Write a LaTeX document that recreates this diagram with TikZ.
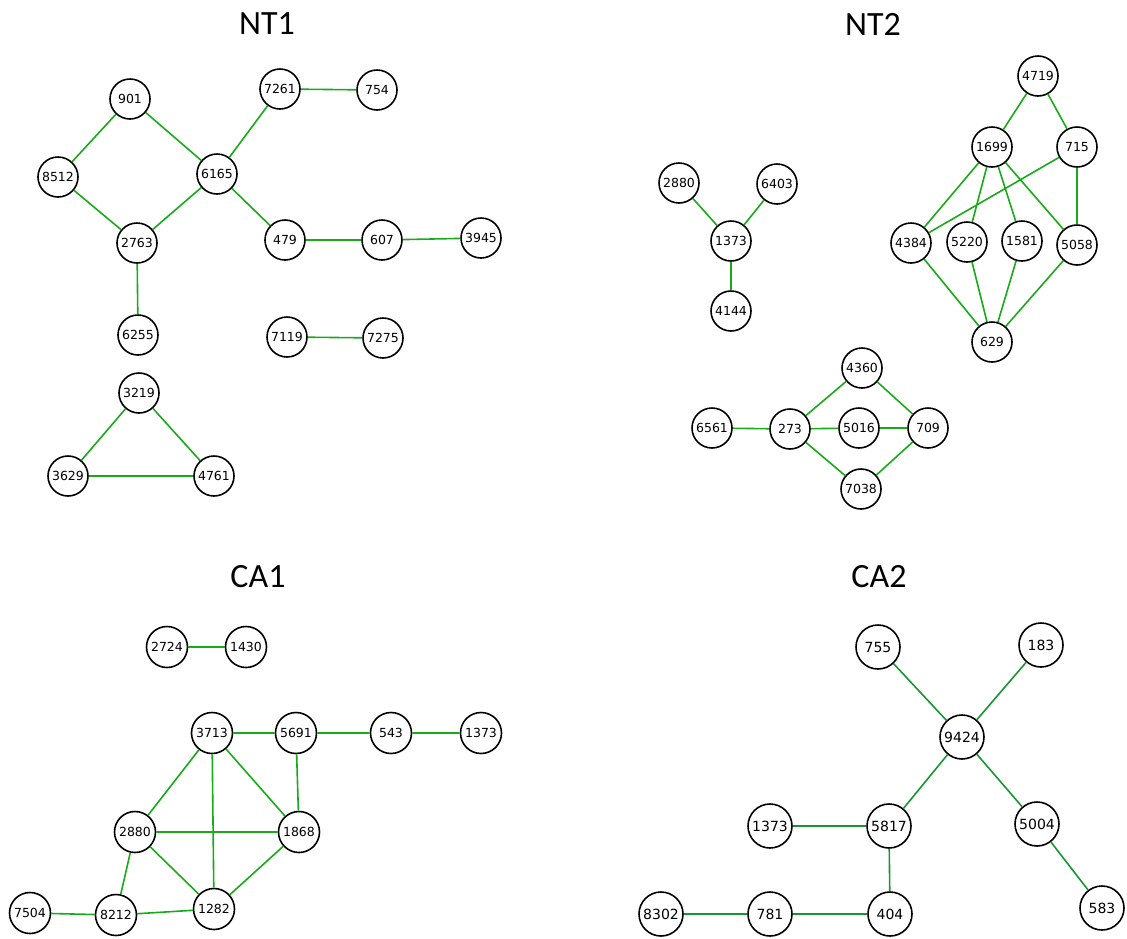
\documentclass[tikz,border=0pt]{standalone}
\usepackage{fontspec}
\setmainfont{DejaVu Sans}
\newfontfamily\titlefont{Carlito}
\usepackage{tikz}
\usetikzlibrary{positioning}
\usetikzlibrary{math}

\definecolor{ntgreen}{RGB}{25,170,25}
\definecolor{cagreen}{RGB}{25,150,50}

\begin{document}
\begin{tikzpicture}[x=1pt,y=-1pt,line width=1.6pt,
    vert/.style={circle, draw=black, fill=white, line width=1.6pt,
      minimum size=40pt, inner sep=0pt, font=\fontsize{12.5}{13}\selectfont},
    bigvert/.style={vert, minimum size=44pt, font=\fontsize{14}{15}\selectfont},
    edge/.style={ntgreen},
    caedge/.style={cagreen},
    heading/.style={font=\titlefont\fontsize{34}{36}\selectfont}]

  \useasboundingbox (0,0) rectangle (1127,938);

  % titles of the four panels
  \node[heading] (tNT1) at (267,24) {NT1};
  \node[heading] (tNT2) at (873,24) {NT2};
  \node[heading] (tCA1) at (258,577) {CA1};
  \node[heading] (tCA2) at (879,577) {CA2};

  % NT1
  \node[vert] (a901)  at (130,99)  {901};
  \node[vert] (a7261) at (280,89)  {7261};
  \node[vert] (a754)  at (377,90)  {754};
  \node[vert] (a8512) at (58,177)  {8512};
  \node[vert] (a6165) at (217,174) {6165};
  \node[vert] (a2763) at (137,243) {2763};
  \node[vert] (a479)  at (285,240) {479};
  \node[vert] (a607)  at (382,240) {607};
  \node[vert] (a3945) at (481,238) {3945};
  \node[vert] (a6255) at (138,335) {6255};
  \node[vert] (a7119) at (287,337) {7119};
  \node[vert] (a7275) at (383,338) {7275};
  \node[vert] (a3219) at (139,393) {3219};
  \node[vert] (a3629) at (68,476)  {3629};
  \node[vert] (a4761) at (214,476) {4761};

  \draw[edge] (a901) -- (a8512) (a901) -- (a6165) (a8512) -- (a2763)
    (a6165) -- (a2763) (a6165) -- (a7261) (a7261) -- (a754)
    (a6165) -- (a479) (a479) -- (a607) (a607) -- (a3945)
    (a2763) -- (a6255) (a7119) -- (a7275);
  \draw[edge] (a3219) -- (a3629) (a3219) -- (a4761) (a3629) -- (a4761);

  % NT2
  \node[vert] (b4719) at (1038,76)  {4719};
  \node[vert] (b1699) at (992,147)  {1699};
  \node[vert] (b715)  at (1077,147) {715};
  \node[vert] (b2880) at (679,183)  {2880};
  \node[vert] (b6403) at (777,184)  {6403};
  \node[vert] (b1373) at (731,241)  {1373};
  \node[vert] (b4144) at (731,311)  {4144};
  \node[vert] (b4384) at (911,243)  {4384};
  \node[vert] (b5220) at (967,242)  {5220};
  \node[vert] (b1581) at (1022,241) {1581};
  \node[vert] (b5058) at (1077,245) {5058};
  \node[vert] (b629)  at (992,342)  {629};
  \node[vert] (b4360) at (862,368)  {4360};
  \node[vert] (b6561) at (712,428)  {6561};
  \node[vert] (b273)  at (790,429)  {273};
  \node[vert] (b5016) at (859,428)  {5016};
  \node[vert] (b709)  at (928,428)  {709};
  \node[vert] (b7038) at (861,489)  {7038};

  \draw[edge] (b4719) -- (b1699) (b4719) -- (b715) (b1699) -- (b4384)
    (b1699) -- (b5220) (b1699) -- (b1581) (b1699) -- (b5058)
    (b715) -- (b4384) (b715) -- (b5058) (b4384) -- (b629)
    (b5220) -- (b629) (b1581) -- (b629) (b5058) -- (b629);
  \draw[edge] (b2880) -- (b1373) (b6403) -- (b1373) (b1373) -- (b4144);
  \draw[edge] (b6561) -- (b273) (b273) -- (b4360) (b273) -- (b5016)
    (b273) -- (b7038) (b4360) -- (b709) (b5016) -- (b709) (b7038) -- (b709);

  % CA1
  \node[vert, minimum size=41pt] (c2724) at (167,647) {2724};
  \node[vert, minimum size=41pt] (c1430) at (246,647) {1430};
  \node[vert, minimum size=41pt] (c3713) at (212,733) {3713};
  \node[vert, minimum size=41pt] (c5691) at (296,733) {5691};
  \node[vert, minimum size=41pt] (c543)  at (391,733) {543};
  \node[vert, minimum size=41pt] (c1373) at (481,733) {1373};
  \node[vert, minimum size=41pt] (c2880) at (135,832) {2880};
  \node[vert, minimum size=41pt] (c1868) at (299,832) {1868};
  \node[vert, minimum size=41pt] (c7504) at (30,913)  {7504};
  \node[vert, minimum size=41pt] (c8212) at (116,915) {8212};
  \node[vert, minimum size=41pt] (c1282) at (214,909) {1282};

  \draw[edge] (c2724) -- (c1430);
  \draw[edge] (c3713) -- (c5691) (c5691) -- (c543) (c543) -- (c1373)
    (c3713) -- (c2880) (c3713) -- (c1282) (c3713) -- (c1868)
    (c5691) -- (c1868) (c2880) -- (c1868) (c2880) -- (c8212)
    (c2880) -- (c1282) (c1868) -- (c1282) (c7504) -- (c8212)
    (c8212) -- (c1282);

  % CA2
  \node[bigvert] (d755)  at (878,647)  {755};
  \node[bigvert] (d183)  at (1041,645) {183};
  \node[bigvert] (d9424) at (962,737)  {9424};
  \node[bigvert] (d1373) at (770,826)  {1373};
  \node[bigvert] (d5817) at (889,826)  {5817};
  \node[bigvert] (d5004) at (1037,824) {5004};
  \node[bigvert] (d8302) at (661,914)  {8302};
  \node[bigvert] (d781)  at (770,914)  {781};
  \node[bigvert] (d404)  at (890,914)  {404};
  \node[bigvert] (d583)  at (1102,908) {583};

  \draw[caedge] (d755) -- (d9424) (d183) -- (d9424) (d9424) -- (d5817)
    (d9424) -- (d5004) (d1373) -- (d5817) (d5817) -- (d404)
    (d8302) -- (d781) (d781) -- (d404) (d5004) -- (d583);

\end{tikzpicture}
\end{document}
